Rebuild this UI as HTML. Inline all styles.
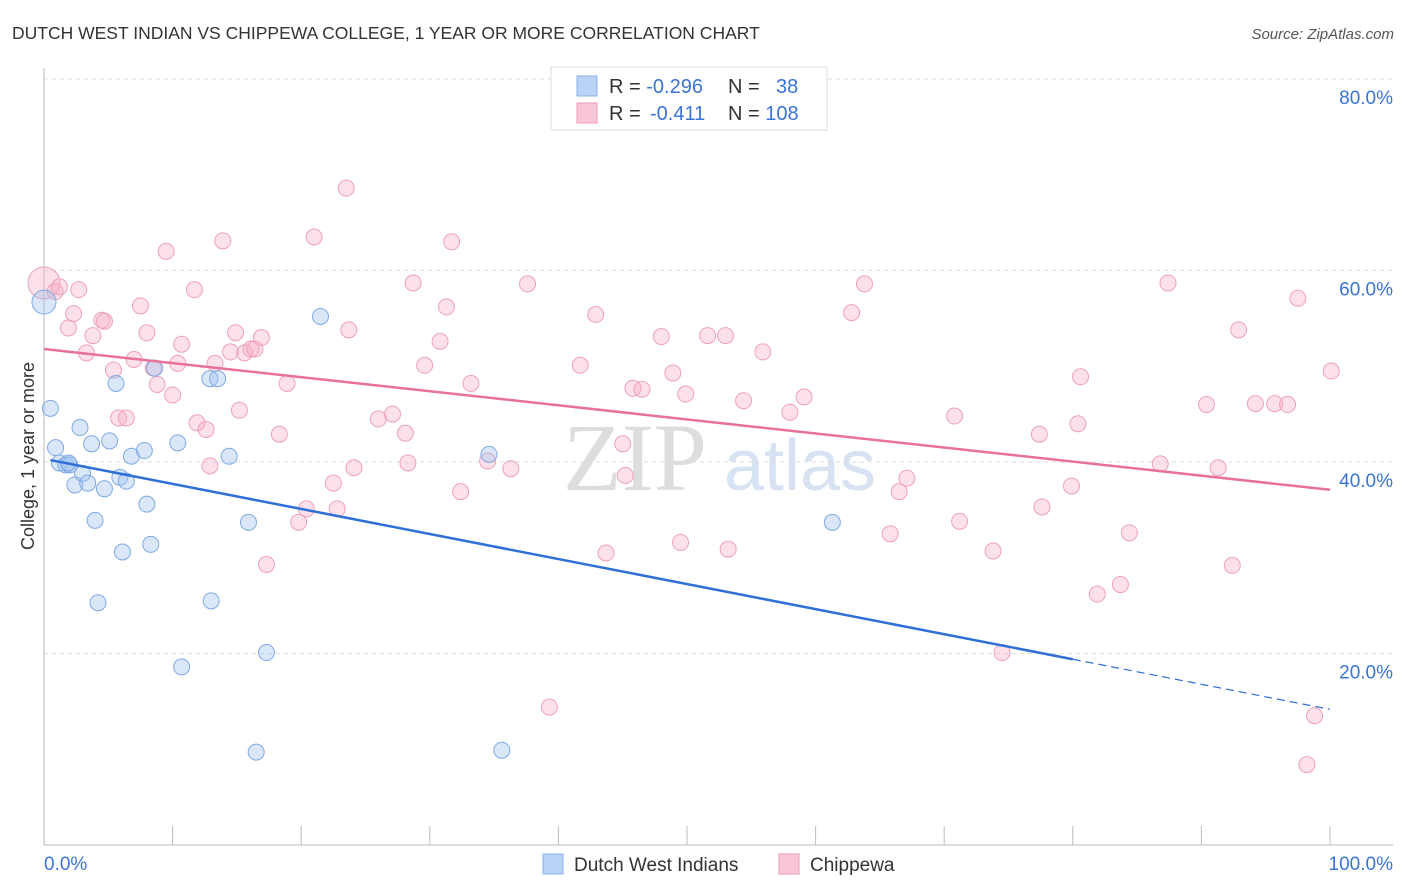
<!DOCTYPE html>
<html><head><meta charset="utf-8"><style>
body{margin:0;background:#fff;font-family:"Liberation Sans",sans-serif;}
svg{display:block}
</style></head><body>
<svg id="c" width="1406" height="892" xmlns="http://www.w3.org/2000/svg">
<text x="12" y="39" font-size="17.5" fill="#333">DUTCH WEST INDIAN VS CHIPPEWA COLLEGE, 1 YEAR OR MORE CORRELATION CHART</text>
<text x="1394" y="39" font-size="15" fill="#555" font-style="italic" text-anchor="end">Source: ZipAtlas.com</text>
<g>
<text x="635" y="490" font-size="96" font-family="Liberation Serif,serif" fill="#ddd" text-anchor="middle">ZIP</text>
<text x="800" y="490" font-size="72" fill="#d7e3f3" text-anchor="middle">atlas</text>
</g>
<g id="grid"></g>
<g id="axes"></g>
<g id="pts"></g>
<g id="lines"></g>
<text transform="translate(34,456) rotate(-90)" font-size="18" fill="#333" text-anchor="middle">College, 1 year or more</text>
<g>
<rect x="551" y="67" width="276" height="63" fill="#fff" stroke="#ddd"/>
<rect x="577" y="76" width="20" height="20" fill="#b8d3f5" stroke="#8ab2e8"/>
<rect x="577" y="103" width="20" height="20" fill="#f9c6d6" stroke="#ef9ab6"/>
<text x="609" y="93" font-size="20" fill="#333">R = <tspan fill="#3a74d6">-0.296</tspan></text>
<text x="728" y="93" font-size="20" fill="#333">N = <tspan x="776" fill="#3a74d6">38</tspan></text>
<text x="609" y="120" font-size="20" fill="#333">R = <tspan x="650" fill="#3a74d6">-0.411</tspan></text>
<text x="728" y="120" font-size="20" fill="#333">N = <tspan fill="#3a74d6">108</tspan></text>
</g>
<g>
<rect x="543" y="854" width="20" height="20" fill="#b8d3f5" stroke="#8ab2e8"/>
<text x="574" y="871" font-size="19" fill="#333">Dutch West Indians</text>
<rect x="779" y="854" width="20" height="20" fill="#f9c6d6" stroke="#ef9ab6"/>
<text x="810" y="871" font-size="19" fill="#333">Chippewa</text>
</g>
</svg>
<script>
const yTicks=[20,40,60,80];
const xTickLabels=["0.0%","100.0%"];
const blueX=[0,0.5,0.9,1.2,1.7,2.0,2.4,2.8,3.0,3.4,3.7,3.97,4.2,4.7,5.1,5.6,5.9,6.1,6.4,6.8,7.8,8.0,8.3,8.6,10.4,10.7,12.9,13.0,13.5,14.4,15.9,16.5,17.3,21.5,34.6,35.6,61.3,1.9];
const blueY=[56.7,45.6,41.5,39.9,39.7,39.7,37.6,43.6,38.8,37.8,41.9,33.9,25.3,37.2,42.2,48.2,38.4,30.6,38.0,40.6,41.2,35.6,31.4,49.8,42.0,18.6,48.7,25.5,48.7,40.6,33.7,9.7,20.1,55.2,40.8,9.9,33.7,39.9];
const pinkX=[0,0.86,1.2,1.9,2.3,2.7,3.3,3.8,4.5,4.7,5.4,5.8,6.4,7.0,7.5,8.0,8.5,8.8,9.5,10.0,10.4,10.7,11.7,11.9,12.6,12.9,13.3,13.9,14.5,14.9,15.2,15.6,16.1,16.4,16.9,17.3,18.3,18.9,19.8,20.4,21.0,22.8,22.5,23.5,23.7,24.1,26.0,27.1,28.1,28.3,28.7,29.6,30.8,31.3,31.7,32.4,33.2,34.5,36.3,37.6,39.3,41.7,42.9,43.7,45.0,45.2,45.8,46.5,48.0,48.9,49.5,49.9,51.6,53.0,53.2,54.4,55.9,58.0,59.1,62.8,63.8,65.8,66.5,67.1,70.8,71.2,73.8,74.5,77.4,77.6,79.9,80.4,80.6,81.9,83.7,84.4,86.8,87.4,90.4,91.3,92.4,92.9,94.2,95.7,96.7,97.5,98.2,98.8,100.1];
const pinkY=[58.7,57.8,58.3,54.0,55.5,58.0,51.4,53.2,54.8,54.7,49.6,44.6,44.6,50.7,56.3,53.5,49.8,48.1,62.0,47.0,50.3,52.3,58.0,44.1,43.4,39.6,50.3,63.1,51.5,53.5,45.4,51.4,51.8,51.8,53.0,29.3,42.9,48.2,33.7,35.1,63.5,35.1,37.8,68.6,53.8,39.4,44.5,45.0,43.0,39.9,58.7,50.1,52.6,56.2,63.0,36.9,48.2,40.1,39.3,58.6,14.4,50.1,55.4,30.5,41.9,38.6,47.7,47.6,53.1,49.3,31.6,47.1,53.2,53.2,30.9,46.4,51.5,45.2,46.8,55.6,58.6,32.5,36.9,38.3,44.8,33.8,30.7,20.1,42.9,35.3,37.5,44.0,48.9,26.2,27.2,32.6,39.8,58.7,46.0,39.4,29.2,53.8,46.1,46.1,46.0,57.1,8.4,13.5,49.5,54.8];
const blueFit=[40.2,19.4];
const pinkFit=[51.8,37.1];
const NS="http://www.w3.org/2000/svg";
const X=v=>44+v*12.86, Y=v=>845-v*9.575;
function mk(t,a,p){const e=document.createElementNS(NS,t);for(const k in a)e.setAttribute(k,a[k]);p.appendChild(e);return e;}
const grid=document.getElementById('grid'),axes=document.getElementById('axes'),pts=document.getElementById('pts'),lines=document.getElementById('lines');
yTicks.forEach(t=>{
 const g=mk('line',{x1:44,x2:1393,y1:Y(t),y2:Y(t),stroke:'#ddd','stroke-dasharray':'4,4'},grid);
 
 
 const l=mk('text',{x:1393,y:Y(t)+25,'font-size':19,fill:'#3a74d6','text-anchor':'end'},axes);
 l.textContent=t.toFixed(1)+'%';
 
 
});
const ya=mk('line',{x1:44,x2:44,y1:68,y2:845,stroke:'#bbb'},axes);


const xa=mk('line',{x1:44,x2:1393,y1:845,y2:845,stroke:'#bbb'},axes);


for(let i=1;i<=10;i++){const tk=mk('line',{x1:X(i*10),x2:X(i*10),y1:826,y2:845,stroke:'#bbb'},axes);
 
 }
[[xTickLabels[0],44,'start'],[xTickLabels[1],1393,'end']].forEach(([s,x,a])=>{const t=mk('text',{x:x,y:870,'font-size':19,fill:'#3a74d6','text-anchor':a},axes);t.textContent=s;
 
 });
pinkX.forEach((x,i)=>{const c=mk('circle',{cx:X(x),cy:Y(pinkY[i]),r:i==0?16:8,fill:'rgba(246,170,196,0.35)',stroke:'#eea0bb','stroke-width':1},pts);
 
 });
blueX.forEach((x,i)=>{const c=mk('circle',{cx:X(x),cy:Y(blueY[i]),r:i==0?12:8,fill:'rgba(160,196,240,0.4)',stroke:'#7fa9e3','stroke-width':1},pts);
 
 });
const pl=mk('line',{x1:X(0),y1:Y(pinkFit[0]),x2:X(100),y2:Y(pinkFit[1]),stroke:'#e8719a','stroke-width':2.5},lines);


const bf=x=>blueFit[0]+(blueFit[1]-blueFit[0])*(x-0.5)/(80-0.5);
const bl=mk('line',{x1:X(0.5),y1:Y(bf(0.5)),x2:X(80),y2:Y(bf(80)),stroke:'#2f6fd6','stroke-width':2.5},lines);


const bd=mk('line',{x1:X(80),y1:Y(bf(80)),x2:X(100),y2:Y(bf(100)),stroke:'#2f6fd6','stroke-width':1.2,'stroke-dasharray':'8,5'},lines);


</script>
</body></html>
